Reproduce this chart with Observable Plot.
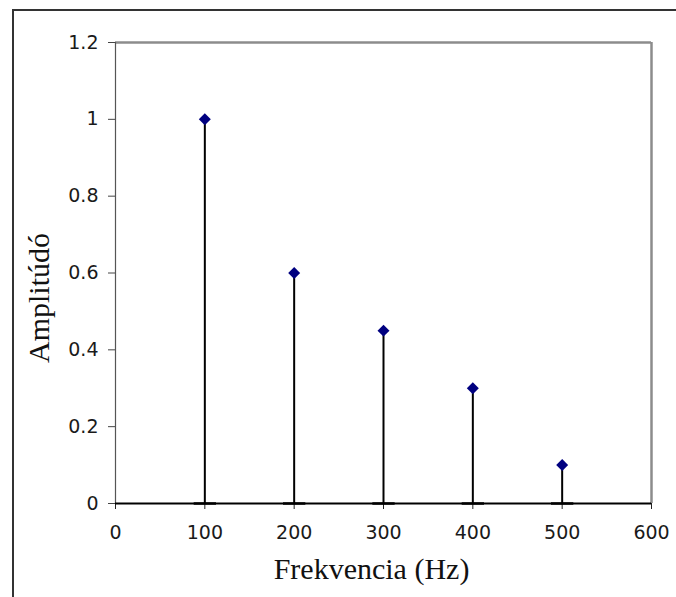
<!DOCTYPE html>
<html>
<head>
<meta charset="utf-8">
<script src="https://cdn.jsdelivr.net/npm/d3@7"></script>
<script src="https://cdn.jsdelivr.net/npm/@observablehq/plot@0.6"></script>
<style>
  html, body { margin: 0; padding: 0; background: #fff; }
  #wrap { position: relative; width: 676px; height: 597px; overflow: hidden; }
  #border { position: absolute; left: 12px; top: 9px; right: -10px; bottom: -10px;
            border-left: 2px solid #333; border-top: 2px solid #333; pointer-events: none; }
</style>
</head>
<body>
<div id="wrap"><div id="border"></div></div>
<script>
const freqs = [100, 200, 300, 400, 500];
const amps = [1, 0.6, 0.45, 0.3, 0.1];
const xTicks = [0, 100, 200, 300, 400, 500, 600];
const yTicks = [0, 0.2, 0.4, 0.6, 0.8, 1, 1.2];
const xTitle = "Frekvencia (Hz)";
const yTitle = "Amplitúdó";

const data = freqs.map((f, i) => ({f, a: amps[i]}));

const capSymbol = {
  draw(ctx, size) {
    const w = Math.sqrt(size) * 0.9;
    ctx.moveTo(-w, 0);
    ctx.lineTo(w, 0);
  }
};

const chart = Plot.plot({
  width: 676,
  height: 597,
  marginLeft: 115,
  marginRight: 25,
  marginTop: 42,
  marginBottom: 94,
  style: {background: "transparent", overflow: "visible"},
  x: {domain: [0, 600]},
  y: {domain: [0, 1.2]},
  marks: [
    Plot.ruleY([yTicks[yTicks.length - 1]], {stroke: "#8c8c8c", strokeWidth: 2.5}),
    Plot.ruleX([xTicks[xTicks.length - 1]], {stroke: "#8c8c8c", strokeWidth: 2.5}),
    Plot.axisX({ticks: xTicks, tickFormat: d => String(d), tickSize: 6, tickPadding: 16,
      label: null, fontSize: 19, fontFamily: "DejaVu Sans", fill: "#1a1a1a", stroke: "#222", strokeWidth: 1}),
    Plot.axisY({ticks: yTicks, tickFormat: d => String(d), tickSize: 7, tickPadding: 10,
      label: null, fontSize: 19, fontFamily: "DejaVu Sans", fill: "#1a1a1a", stroke: "#444", strokeWidth: 1}),
    Plot.ruleX([xTicks[0]], {stroke: "#555", strokeWidth: 1.2}),
    Plot.ruleX(data, {x: "f", y1: 0, y2: "a", stroke: "#000", strokeWidth: 2}),
    Plot.dot(data, {x: "f", y: () => 0, symbol: capSymbol, r: 7, stroke: "#000", strokeWidth: 2.5}),
    Plot.ruleY([yTicks[0]], {stroke: "#000", strokeWidth: 2}),
    Plot.dot(data, {x: "f", y: "a", symbol: "diamond2", r: 5.4, fill: "#000080", stroke: "none"}),
    Plot.text([xTitle], {frameAnchor: "bottom", dx: -12, dy: 75, lineAnchor: "bottom", textAnchor: "middle",
      fontFamily: "Liberation Serif", fontSize: 30, fill: "#111"}),
    Plot.text([yTitle], {frameAnchor: "left", rotate: -90, dx: -67, dy: 25, lineAnchor: "bottom", textAnchor: "middle",
      fontFamily: "Liberation Serif", fontSize: 30, fill: "#111"})
  ]
});

document.getElementById("wrap").prepend(chart);
</script>
</body>
</html>
